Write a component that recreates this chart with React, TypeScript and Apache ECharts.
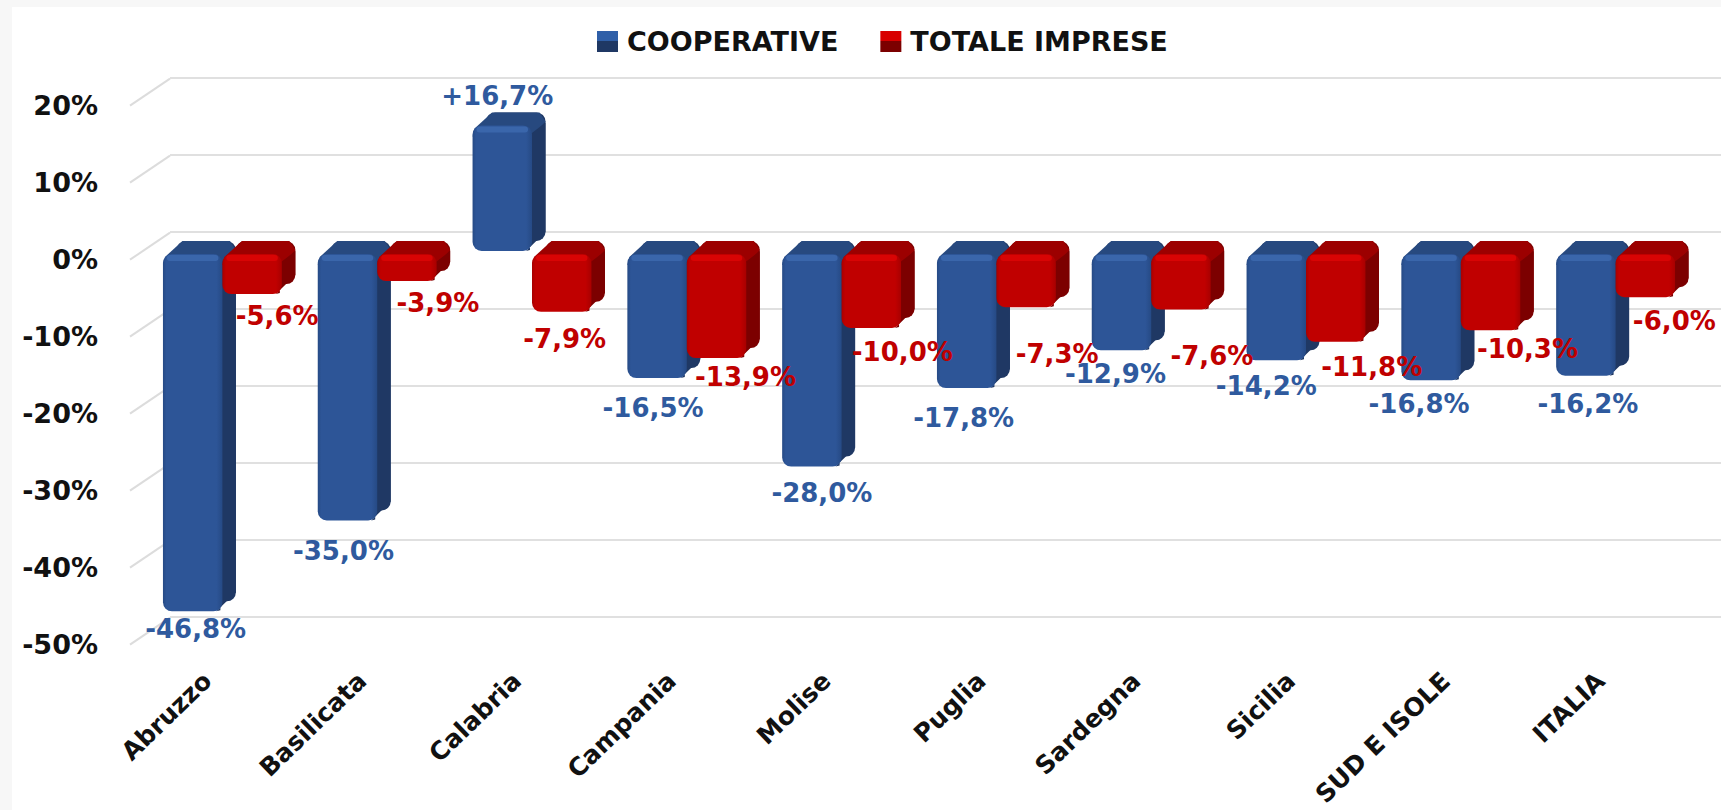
import React, { useEffect, useRef } from "react";
import * as echarts from "echarts";

const categories = ["Abruzzo", "Basilicata", "Calabria", "Campania", "Molise", "Puglia", "Sardegna", "Sicilia", "SUD E ISOLE", "ITALIA"];
const cooperative = [-46.8, -35.0, 16.7, -16.5, -28.0, -17.8, -12.9, -14.2, -16.8, -16.2];
const totaleImprese = [-5.6, -3.9, -7.9, -13.9, -10.0, -7.3, -7.6, -11.8, -10.3, -6.0];
const yTicks = [20, 10, 0, -10, -20, -30, -40, -50];

// label placement relative to each bar's end, as manually moved in the original
const coopLabelShift = [[3, 18], [-4, 30], [-5, -26], [-4, 30], [10, 26], [-3, 30], [-6, 24], [-10, 26], [-12, 24], [2, 28]];
const totLabelShift = [[25, 22], [31, 22], [3, 27], [29, 19], [31, 24], [31, 47], [31, 46], [36, 25], [37, 19], [29, 24]];

const FONT = "'DejaVu Sans', sans-serif";
const BLUE_TEXT = "#2f5a9e";
const RED_TEXT = "#c00000";
const DX = 13.5;
const DY = 10;
const LIFT = 3;

const blueSkin = { front: "#2d5597", light: "#3a66ab", dark: "#264a85", top: "#27497f", side: "#1f3864" };
const redSkin = { front: "#c00000", light: "#d80404", dark: "#a80000", top: "#9c0000", side: "#7c0000" };

function fmt(v: number) {
  const s = Math.abs(v).toFixed(1).replace(".", ",");
  return (v > 0 ? "+" : "-") + s + "%";
}

function barItem(skin: typeof blueSkin, side: number) {
  return (params: any, api: any) => {
    const cat = api.value(0);
    const val = api.value(1);
    const p0 = api.coord([cat, 0]);
    const p1 = api.coord([cat, val]);
    const w = api.size([1, 0])[0] * 0.384;
    const x = side < 0 ? p0[0] - w : p0[0];
    const y = Math.min(p0[1], p1[1]);
    const h = Math.abs(p1[1] - p0[1]);
    const r = Math.min(9, h / 2);
    const fy = y + LIFT;
    const fh = h - LIFT;
    return {
      type: "group",
      children: [
        { type: "rect", shape: { x: x + DX, y: y - DY, width: w, height: h, r }, style: { fill: skin.side } },
        { type: "polygon", shape: { points: [[x + 2, fy + 3], [x + DX + r - 3, y - DY], [x + w + DX - r + 3, y - DY], [x + w + DX, y - DY + r], [x + w, fy + r + 2], [x, fy + r + 2]] }, style: { fill: skin.top } },
        { type: "polygon", shape: { points: [[x + w - 2, fy + r], [x + w + DX, y - DY + r + 1], [x + w + DX, y + h - DY - r], [x + w - r + 3, y + h], [x + w - 2, y + h - 1]] }, style: { fill: skin.side } },
        {
          type: "rect",
          shape: { x, y: fy, width: w, height: fh, r },
          style: {
            fill: new echarts.graphic.LinearGradient(0, 0, 1, 0, [
              { offset: 0, color: skin.dark },
              { offset: 0.06, color: skin.front },
              { offset: 0.9, color: skin.front },
              { offset: 1, color: skin.dark },
            ]),
          },
        },
        { type: "rect", shape: { x: x + 4, y: fy + 1, width: w - 8, height: Math.min(6, fh / 4), r: 3 }, style: { fill: skin.light } },
      ],
    };
  };
}

function labelItem(values: number[], shifts: number[][], side: number, color: string) {
  return (params: any, api: any) => {
    const i = params.dataIndex;
    const p = api.coord([i, values[i]]);
    const w = api.size([1, 0])[0] * 0.384;
    return {
      type: "text",
      x: p[0] + side * w * 0.5 + shifts[i][0],
      y: p[1] + shifts[i][1],
      style: { text: fmt(values[i]), fill: color, font: `bold 26px ${FONT}`, lineHeight: 17, align: "center", verticalAlign: "middle" },
    };
  };
}

function diagonalItem(params: any, api: any) {
  const p = api.coord([0, api.value(0)]);
  const x = params.coordSys.x;
  return {
    type: "line",
    shape: { x1: x, y1: p[1], x2: x + 40, y2: p[1] - 27 },
    style: { stroke: "#dcdcdc", lineWidth: 2 },
  };
}

function legendFill(light: string, dark: string) {
  return new echarts.graphic.LinearGradient(0, 0, 0, 1, [
    { offset: 0, color: light },
    { offset: 0.5, color: light },
    { offset: 0.5, color: dark },
    { offset: 1, color: dark },
  ]);
}

const hiddenX = (gridIndex: number) => ({ type: "category" as const, gridIndex, data: categories, show: false });
const hiddenY = (gridIndex: number) => ({ type: "value" as const, gridIndex, min: -50, max: 20, interval: 10, show: false });

export default function App() {
  const ref = useRef<HTMLDivElement>(null);
  useEffect(() => {
    const chart = echarts.init(ref.current!, undefined, { renderer: "svg" });
    chart.setOption({
      animation: false,
      backgroundColor: "#f7f7f7",
      graphic: [{ type: "rect", z: -1, shape: { x: 12, y: 7, width: 1709, height: 803 }, style: { fill: "#ffffff" } }],
      legend: {
        top: 23,
        left: 592,
        itemWidth: 21,
        itemHeight: 21,
        itemGap: 42,
        textStyle: { fontFamily: FONT, fontWeight: "bold", fontSize: 27, color: "#111111", padding: [0, 0, 0, 4] },
        data: [
          { name: "COOPERATIVE", icon: "rect", itemStyle: { color: legendFill("#2f5fa8", "#1f3864") } },
          { name: "TOTALE IMPRESE", icon: "rect", itemStyle: { color: legendFill("#d80000", "#7c0000") } },
        ],
      },
      grid: [
        { left: 170, top: 78, width: 1551, height: 539 },
        { left: 130, top: 105.7, width: 1548, height: 539 },
        { left: 145, top: 97, width: 1548, height: 539 },
      ],
      xAxis: [
        hiddenX(0),
        {
          type: "category",
          gridIndex: 1,
          data: categories,
          axisLine: { show: false },
          axisTick: { show: false },
          axisLabel: { rotate: 44, margin: 32, interval: 0, fontFamily: FONT, fontWeight: "bold", fontSize: 25, color: "#111111" },
        },
        hiddenX(2),
      ],
      yAxis: [
        {
          type: "value",
          gridIndex: 0,
          min: -50,
          max: 20,
          interval: 10,
          axisLine: { show: false },
          axisTick: { show: false },
          axisLabel: { show: false },
          splitLine: { show: true, lineStyle: { color: "#e0e0e0", width: 2 } },
        },
        {
          type: "value",
          gridIndex: 1,
          min: -50,
          max: 20,
          interval: 10,
          axisLine: { show: false },
          axisTick: { show: false },
          splitLine: { show: false },
          axisLabel: { margin: 32, fontFamily: FONT, fontWeight: "bold", fontSize: 27, color: "#111111", formatter: (v: number) => `${v}%` },
        },
        hiddenY(2),
      ],
      series: [
        { type: "custom", name: "diagonali", xAxisIndex: 1, yAxisIndex: 1, z: 1, silent: true, clip: false, encode: { y: 0 }, data: yTicks.map((v) => [v]), renderItem: diagonalItem },
        { type: "custom", name: "COOPERATIVE", xAxisIndex: 2, yAxisIndex: 2, z: 2, clip: false, encode: { x: 0, y: 1 }, data: cooperative.map((v, i) => [i, v]), renderItem: barItem(blueSkin, -1) },
        { type: "custom", name: "TOTALE IMPRESE", xAxisIndex: 2, yAxisIndex: 2, z: 3, clip: false, encode: { x: 0, y: 1 }, data: totaleImprese.map((v, i) => [i, v]), renderItem: barItem(redSkin, 1) },
        { type: "custom", name: "etichette cooperative", xAxisIndex: 2, yAxisIndex: 2, z: 5, clip: false, encode: { x: 0, y: 1 }, data: cooperative.map((v, i) => [i, v]), renderItem: labelItem(cooperative, coopLabelShift, -1, BLUE_TEXT) },
        { type: "custom", name: "etichette totale", xAxisIndex: 2, yAxisIndex: 2, z: 6, clip: false, encode: { x: 0, y: 1 }, data: totaleImprese.map((v, i) => [i, v]), renderItem: labelItem(totaleImprese, totLabelShift, 1, RED_TEXT) },
      ],
    });
    return () => chart.dispose();
  }, []);
  return <div ref={ref} style={{ position: "fixed", left: 0, top: 0, width: 1721, height: 810 }} />;
}
